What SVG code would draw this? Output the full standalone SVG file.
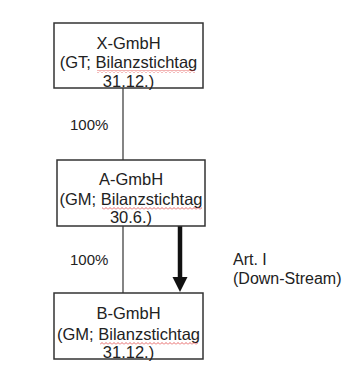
<svg xmlns="http://www.w3.org/2000/svg" width="355" height="365" viewBox="0 0 355 365">
<style>
.box{fill:#fff;stroke:#333;stroke-width:1.5}
.t{font-family:"Liberation Sans",Arial,sans-serif;font-size:16.5px;fill:#222;text-anchor:middle}
.l{font-family:"Liberation Sans",Arial,sans-serif;font-size:15px;fill:#222}
.lbl{font-family:"Liberation Sans",Arial,sans-serif;font-size:16px;fill:#222}
.line{stroke:#333;stroke-width:1.2;fill:none}
</style>
<defs>
<pattern id="wave" width="4" height="3" patternUnits="userSpaceOnUse">
<path d="M0,2.5 L2,0.5 L4,2.5" fill="none" stroke="#e04040" stroke-width="0.8"/>
</pattern>
</defs>
<rect width="355" height="365" fill="#fff"/>
<g id="connectors">
<line class="line" x1="123" y1="88" x2="123" y2="160"/>
<line class="line" x1="123" y1="226" x2="123" y2="293"/>
<line x1="180" y1="226" x2="180" y2="279" stroke="#111" stroke-width="4.5"/>
<polygon points="172.5,277 187.5,277 180,292" fill="#111"/>
<text class="l" x="70" y="130">100%</text>
<text class="l" x="70" y="265">100%</text>
<text class="lbl" x="233" y="265">Art. I</text>
<text class="lbl" x="233" y="284">(Down-Stream)</text>
</g>
<g id="x-gmbh">
<rect class="box" x="54" y="23" width="149" height="65"/>
<text class="t" x="128.5" y="49">X-GmbH</text>
<text class="t" x="128.5" y="68">(GT; Bilanzstichtag</text>
<rect x="97" y="70" width="98" height="3" fill="url(#wave)"/>
<text class="t" x="128.5" y="87">31.12.)</text>
</g>
<g id="a-gmbh">
<rect class="box" x="57" y="160" width="148" height="66"/>
<text class="t" x="131" y="185">A-GmbH</text>
<text class="t" x="131" y="205">(GM; Bilanzstichtag</text>
<rect x="102" y="207" width="100" height="3" fill="url(#wave)"/>
<text class="t" x="131" y="223">30.6.)</text>
</g>
<g id="b-gmbh">
<rect class="box" x="54" y="293" width="149" height="66"/>
<text class="t" x="128.5" y="319">B-GmbH</text>
<text class="t" x="128.5" y="340">(GM; Bilanzstichtag</text>
<rect x="100" y="342" width="98" height="3" fill="url(#wave)"/>
<text class="t" x="128.5" y="358">31.12.)</text>
</g>
</svg>
